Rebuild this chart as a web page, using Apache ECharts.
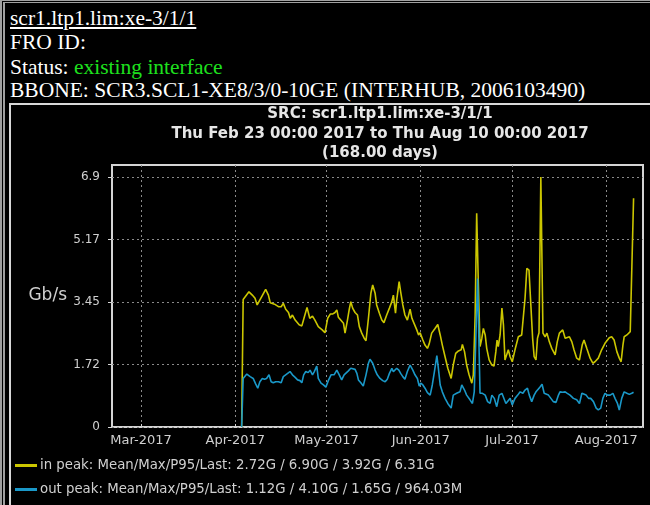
<!DOCTYPE html>
<html>
<head>
<meta charset="utf-8">
<title>scr1.ltp1.lim:xe-3/1/1</title>
<script src="https://cdn.jsdelivr.net/npm/echarts@6/dist/echarts.min.js"></script>
<style>
  html, body {
    margin: 0;
    padding: 0;
    width: 650px;
    height: 505px;
    background: #000;
    overflow: hidden;
  }
  .frame {
    position: absolute;
    left: 0;
    top: 0;
    width: 700px;
    height: 560px;
    border-left: 5px double #a0a0a0;
    border-top: 3px double #a0a0a0;
    box-sizing: border-box;
  }
  .head {
    position: absolute;
    left: 10px;
    font-family: 'Liberation Serif', serif;
    font-size: 21.5px;
    line-height: 24px;
    color: #fff;
    white-space: nowrap;
  }
  .head a { color: #fff; text-decoration: underline; }
  .ok { color: #1ee01e; }
  .box {
    position: absolute;
    left: 9px;
    top: 103px;
    width: 700px;
    height: 500px;
    border: 2px solid #d8d8d8;
    box-sizing: border-box;
  }
  #chart {
    position: absolute;
    left: 0;
    top: 0;
    width: 650px;
    height: 505px;
  }
</style>
</head>
<body>
<div class="frame"></div>
<div class="head" style="top:6px"><a>scr1.ltp1.lim:xe-3/1/1</a></div>
<div class="head" style="top:30px">FRO ID:</div>
<div class="head" style="top:55px">Status: <span class="ok">existing interface</span></div>
<div class="head" style="top:78px">BBONE: SCR3.SCL1-XE8/3/0-10GE (INTERHUB, 2006103490)</div>
<div class="box"></div>
<div id="chart"></div>

<script>
// times are days after 1 Mar 2017, values in Gb/s
const inDay = [
  33.1, 33.6, 35.5, 36.6, 37.5, 38.2, 38.8, 39.7, 41.0, 41.9, 42.5, 43.9, 45.2, 46.1, 46.8,
  47.6, 48.5, 49.1, 49.8, 50.7, 52.0, 52.9, 53.6, 54.6, 55.5, 56.4, 57.2, 58.3, 59.6, 60.5,
  61.4, 62.3, 63.1, 63.8, 64.4, 64.9, 65.5, 66.6, 67.1, 67.9, 68.5, 69.0, 69.6, 70.4, 71.2,
  71.8, 72.6, 73.4, 74.0, 74.8, 75.6, 76.2, 77.0, 77.5, 78.4, 79.2, 79.9, 80.8, 81.7, 82.5,
  83.0, 83.7, 84.1, 84.9, 85.4, 86.1, 86.8, 87.6, 88.5, 89.1, 89.8, 90.7, 91.3, 91.8, 92.7,
  93.4, 94.2, 94.8, 95.6, 96.7, 97.6, 98.4, 99.1, 100.0, 100.9, 102.0, 102.7, 103.5, 104.4,
  105.3, 105.7, 106.4, 107.1, 107.9, 108.8, 109.3, 109.9, 110.4, 110.9, 111.5, 112.1, 112.6,
  113.2, 113.7, 114.5, 115.4, 116.1, 116.7, 117.1, 117.5, 118.1, 118.7, 119.2, 119.7, 120.3,
  120.8, 121.4, 122.1, 123.0, 124.1, 125.2, 126.3, 126.9, 127.6, 128.2, 128.8, 129.3, 129.9,
  130.4, 130.9, 131.5, 132.2, 132.9, 133.5, 134.3, 135.1, 136.2, 136.9, 137.6, 138.7, 139.5,
  140.0, 140.9, 141.7, 142.4, 143.3, 144.2, 145.1, 145.7, 146.6, 147.7, 148.6, 149.3, 150.4,
  151.5, 152.6, 154.0, 154.8, 155.6, 156.5, 157.3, 157.9, 158.5, 158.9, 159.8, 160.9, 161.2,
  162.0
]
const inGbps = [
  0, 3.52, 3.73, 3.64, 3.55, 3.37, 3.34, 3.60, 3.80, 3.64, 3.43, 3.39, 3.32, 3.32, 3.41,
  3.25, 3.16, 3.00, 3.09, 2.95, 2.82, 2.79, 3.00, 3.30, 3.00, 3.06, 2.95, 2.77, 2.68, 2.60,
  3.00, 3.12, 3.12, 3.16, 3.23, 3.03, 3.06, 2.86, 2.59, 2.95, 3.25, 3.46, 3.28, 3.16, 3.09,
  2.77, 2.59, 2.45, 2.38, 3.00, 3.69, 3.92, 3.69, 3.37, 3.14, 2.95, 2.88, 3.09, 3.28, 3.46,
  3.64, 3.14, 3.51, 4.01, 3.73, 3.37, 3.09, 2.95, 3.25, 3.00, 2.86, 2.68, 2.54, 2.60, 2.40,
  2.26, 2.17, 2.30, 2.59, 2.72, 2.83, 2.54, 2.26, 1.94, 1.62, 1.34, 1.71, 2.03, 2.10,
  2.13, 2.28, 2.08, 1.71, 1.44, 1.21, 1.44, 3.09, 5.90, 4.10, 2.22, 2.45, 2.72,
  2.54, 2.17, 1.85, 1.71, 1.68, 2.08, 2.40, 2.22, 2.54, 3.28, 2.82, 1.85, 1.90,
  2.13, 1.94, 1.80, 2.13, 2.49, 2.54, 3.55, 4.38, 4.33, 4.29, 2.45, 1.94, 1.85,
  2.45, 2.60, 6.90, 2.59, 2.49, 2.59, 2.35, 2.17, 1.99, 2.35, 2.59, 2.68, 2.45,
  2.45, 2.49, 2.35, 2.13, 1.90, 1.85, 2.26, 2.40, 2.17, 1.90, 1.76, 1.80, 1.90,
  2.13, 2.31, 2.46, 2.49, 2.40, 2.08, 1.90, 1.80, 2.26, 2.49, 2.54, 2.63, 2.68,
  6.31
]
const outDay = [
  33.1, 33.6, 34.8, 35.9, 36.9, 37.7, 38.4, 39.1, 39.9, 40.6, 41.3, 42.1, 42.8, 43.5, 44.3,
  45.2, 46.1, 46.8, 47.9, 49.0, 49.8, 50.7, 51.5, 52.3, 52.9, 53.5, 54.2, 55.0, 55.6, 56.4,
  57.0, 57.8, 58.3, 59.2, 60.0, 60.8, 61.6, 62.5, 63.5, 64.4, 65.2, 66.0, 66.8, 67.4, 68.2,
  69.0, 69.6, 70.4, 71.0, 71.5, 72.3, 73.1, 74.0, 74.8, 75.3, 76.2, 77.0, 77.7, 78.6, 79.5,
  80.3, 81.0, 81.7, 82.5, 83.0, 83.6, 84.1, 84.8, 85.4, 86.1, 86.8, 87.6, 88.5, 89.4, 90.1,
  90.9, 91.5, 92.0, 92.7, 93.4, 94.2, 95.1, 95.8, 96.5, 97.3, 97.8, 98.4, 99.1, 100.0,
  100.9, 102.0, 102.7, 103.8, 104.9, 105.5, 106.4, 107.1, 108.2, 109.0, 109.6, 110.7,
  111.5, 112.3, 113.2, 114.0, 114.8, 115.4, 116.2, 117.0, 117.8, 118.7, 119.3, 120.0,
  120.6, 121.4, 122.1, 123.0, 123.9, 124.7, 125.6, 126.3, 127.1, 127.7, 128.5, 129.3,
  129.9, 130.7, 131.3, 131.9, 132.6, 133.2, 134.0, 134.8, 135.6, 136.5, 137.3, 137.8,
  138.7, 139.5, 140.2, 141.1, 142.2, 143.3, 144.2, 145.0, 145.5, 146.4, 147.2, 147.9,
  148.8, 149.7, 150.4, 151.2, 151.9, 152.6, 153.4, 154.3, 155.2, 155.9, 156.7, 157.3,
  158.1, 158.9, 159.8, 160.6, 161.4, 162.0
]
const outGbps = [
  0, 1.34, 1.46, 1.39, 1.34, 1.19, 1.07, 1.25, 1.34, 1.32, 1.34, 1.44, 1.25, 1.22, 1.25,
  1.25, 1.22, 1.39, 1.46, 1.53, 1.44, 1.37, 1.30, 1.28, 1.22, 1.44, 1.53, 1.50, 1.57, 1.44,
  1.53, 1.68, 1.34, 1.21, 1.16, 1.10, 1.28, 1.44, 1.44, 1.57, 1.44, 1.30, 1.44, 1.48, 1.55,
  1.62, 1.57, 1.59, 1.48, 1.30, 1.22, 1.13, 1.44, 1.76, 1.87, 1.76, 1.57, 1.44, 1.34, 1.28,
  1.25, 1.32, 1.48, 1.62, 1.53, 1.50, 1.62, 1.57, 1.48, 1.39, 1.32, 1.53, 1.71, 1.57, 1.44,
  1.34, 1.13, 1.21, 1.16, 1.07, 0.95, 0.88, 1.16, 1.53, 1.97, 1.62, 1.16, 0.97, 0.79,
  0.65, 0.52, 0.88, 0.93, 0.97, 1.16, 1.02, 0.88, 0.75, 0.65, 0.97, 4.10,
  0.93, 0.93, 0.88, 0.70, 0.65, 0.88, 0.79, 0.56, 0.88, 0.93, 0.88, 0.65,
  0.70, 0.79, 0.61, 0.79, 0.88, 0.97, 0.93, 1.02, 1.07, 0.88, 0.70, 0.88,
  0.97, 1.05, 1.11, 1.18, 0.93, 0.93, 0.88, 0.79, 0.70, 0.68, 0.88, 0.97,
  0.96, 0.97, 0.93, 0.88, 0.79, 0.75, 0.65, 0.93, 0.97, 0.88, 0.79, 0.79,
  0.70, 0.52, 0.47, 0.52, 0.79, 0.93, 0.88, 0.88, 0.93, 0.79, 0.65, 0.47,
  0.79, 0.97, 0.93, 0.90, 0.93, 0.96
]

const monthTicks = ['2017-03-01', '2017-04-01', '2017-05-01', '2017-06-01', '2017-07-01', '2017-08-01']
const monthLabels = ['Mar-2017', 'Apr-2017', 'May-2017', 'Jun-2017', 'Jul-2017', 'Aug-2017']
const yTicks = [0, 1.725, 3.45, 5.175, 6.9]
const yLabels = ['0', '1.72', '3.45', '5.17', '6.9']

const seriesNames = ['in peak', 'out peak']
const inStats = ['2.72G', '6.90G', '3.92G', '6.31G']
const outStats = ['1.12G', '4.10G', '1.65G', '964.03M']

const titleLines = [
  'SRC: scr1.ltp1.lim:xe-3/1/1',
  'Thu Feb 23 00:00 2017 to Thu Aug 10 00:00 2017',
  '(168.00 days)',
]

const dayMs = 86400000
const day0 = Date.UTC(2017, 2, 1)
const toTime = (d) => day0 + d * dayMs
const utc = (s) => new Date(s + 'T00:00:00Z').getTime()

const tickTimes = monthTicks.map(utc)
const inData = inDay.map((d, i) => [toTime(d), inGbps[i]])
const outData = outDay.map((d, i) => [toTime(d), outGbps[i]])

const textcolor = '#d0d0d0'
const gridcolor = '#8a8a8a'

let myChart = echarts.init(document.getElementById('chart'), null, { renderer: 'canvas' })
myChart.setOption({
  animation: false,
  backgroundColor: 'transparent',
  color: ['#cbc600', '#1a98c8'],
  textStyle: { fontFamily: 'DejaVu Sans' },
  graphic: titleLines.map((t, i) => ({
    type: 'text',
    x: 380,
    y: [114, 134, 153][i],
    style: {
      text: t,
      fill: '#e6e6e6',
      font: 'bold 15px "DejaVu Sans"',
      textAlign: 'center',
      textVerticalAlign: 'middle',
    },
  })),
  legend: {
    orient: 'vertical',
    left: 15,
    top: 459,
    height: 46,
    padding: 0,
    itemGap: 11,
    itemWidth: 22,
    itemHeight: 3,
    icon: 'rect',
    data: seriesNames,
    textStyle: { color: textcolor, fontSize: 13.3, padding: [0, 0, 0, -2] },
    formatter: (name) => {
      const s = name === seriesNames[0] ? inStats : outStats
      return name + ': Mean/Max/P95/Last: ' + s.join(' / ')
    },
  },
  grid: {
    left: 112,
    right: 7,
    top: 165,
    bottom: 78,
    show: true,
    borderColor: '#d4d4d4',
    borderWidth: 2,
    containLabel: false,
  },
  xAxis: {
    type: 'value',
    min: utc('2017-02-19') + 0.46 * dayMs,
    max: utc('2017-08-13') + 0.1 * dayMs,
    axisLine: { show: false },
    axisTick: {
      show: true,
      customValues: tickTimes,
      length: 3,
      inside: true,
      lineStyle: { color: '#d4d4d4' },
    },
    axisLabel: {
      customValues: tickTimes,
      color: textcolor,
      fontSize: 13,
      margin: 7,
      formatter: (v) => monthLabels[tickTimes.indexOf(v)] || '',
    },
    splitLine: {
      show: true,
      lineStyle: { color: gridcolor, type: [2, 3], width: 1 },
    },
  },
  yAxis: {
    type: 'value',
    min: 0,
    max: 7.23,
    name: 'Gb/s',
    nameLocation: 'middle',
    nameRotate: 0,
    nameGap: 45,
    nameTextStyle: { color: textcolor, fontSize: 17 },
    axisLine: { show: false },
    axisTick: {
      show: true,
      customValues: yTicks,
      length: 4,
      lineStyle: { color: '#d4d4d4' },
    },
    axisLabel: {
      customValues: yTicks,
      color: textcolor,
      fontSize: 12,
      margin: 12,
      formatter: (v) => yLabels[yTicks.indexOf(v)] || '',
    },
    splitLine: {
      show: true,
      lineStyle: { color: gridcolor, type: [2, 3], width: 1 },
    },
  },
  series: [
    {
      name: seriesNames[0],
      type: 'line',
      symbol: 'none',
      lineStyle: { width: 1.6 },
      data: inData,
      z: 2,
    },
    {
      name: seriesNames[1],
      type: 'line',
      symbol: 'none',
      lineStyle: { width: 1.6 },
      data: outData,
      z: 3,
    },
  ],
})
</script>
</body>
</html>
